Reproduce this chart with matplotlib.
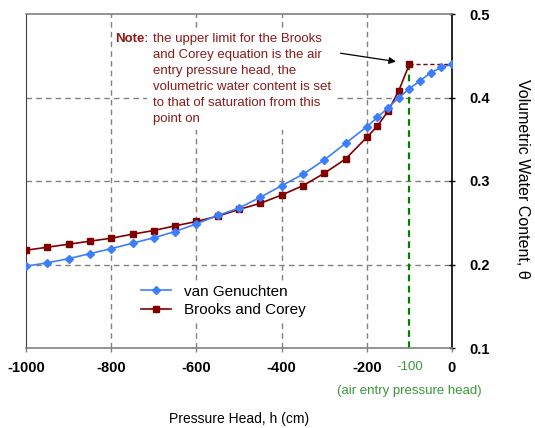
import matplotlib
matplotlib.use("Agg")
import matplotlib.pyplot as plt

plt.rcParams['font.family'] = ['Liberation Sans', 'DejaVu Sans']

# --- data ---
vg_h = [-1000, -950, -900, -850, -800, -750, -700, -650, -600, -550, -500, -450,
        -400, -350, -300, -250, -200, -175, -150, -125, -100, -75, -50, -25, 0]
vg_theta = [0.198, 0.202, 0.207, 0.213, 0.219, 0.2255, 0.232, 0.2395, 0.2487, 0.2587, 0.2676, 0.2805,
            0.2944, 0.308, 0.3251, 0.3451, 0.365, 0.3763, 0.3878, 0.3998, 0.4106, 0.420, 0.4297, 0.436, 0.44]

bc_h = [-1000, -950, -900, -850, -800, -750, -700, -650, -600, -550, -500, -450,
        -400, -350, -300, -250, -200, -175, -150, -125, -100]
bc_theta = [0.2171, 0.2207, 0.2243, 0.2279, 0.2315, 0.2363, 0.2407, 0.2463, 0.2515, 0.2579, 0.2659, 0.2733,
            0.2832, 0.2944, 0.3092, 0.3263, 0.3523, 0.3659, 0.3838, 0.408, 0.44]
bc_sat_h = [-100, 0]
bc_sat_theta = [0.44, 0.44]

air_entry_h = -100
xticks = [-1000, -800, -600, -400, -200, 0]
yticks = [0.1, 0.2, 0.3, 0.4, 0.5]

blue = "#3D7EFF"
red = "#800000"
green = "#008000"
note_color = "#8B1A1A"

fig = plt.figure(figsize=(5.35, 4.28), dpi=100)
ax = fig.add_axes([26/535, 1-348/428, 426/535, 334/428])
ax.set_xlim(-1000, 0)
ax.set_ylim(0.1, 0.5)

# grid
for x in [-800, -600, -400, -200]:
    ax.axvline(x, color="#808080", ls=(0, (4, 3)), lw=1.0, zorder=0)
for y in [0.2, 0.3, 0.4]:
    ax.axhline(y, color="#808080", ls=(0, (4, 3)), lw=1.0, zorder=0)

# air entry line
ax.plot([air_entry_h, air_entry_h], [0.1, bc_sat_theta[0]], color=green, ls=(0, (3, 2)), lw=1.6, zorder=2)

l1, = ax.plot(vg_h, vg_theta, color=blue, marker="D", ms=4, lw=1.2, label="van Genuchten", zorder=4)
l2, = ax.plot(bc_h, bc_theta, color=red, marker="s", ms=5, lw=1.2, label="Brooks and Corey", zorder=3)
ax.plot(bc_sat_h, bc_sat_theta, color=red, ls=(0, (3, 2)), lw=1.0, zorder=3)

# axes styling
ax.yaxis.tick_right()
ax.set_yticks(yticks)
ax.set_yticklabels(["0.1", "0.2", "0.3", "0.4", "0.5"], fontsize=10.5, fontweight="bold")
ax.tick_params(axis="y", direction="inout", length=5, width=1, pad=10, color="black")
ax.set_xticks(xticks)
ax.set_xticklabels([str(x) for x in xticks], fontsize=10.5, fontweight="bold")
ax.tick_params(axis="x", direction="out", length=3, width=1, pad=6, color="#808080")
for s in ["top", "bottom"]:
    ax.spines[s].set_color("#808080")
    ax.spines[s].set_linewidth(1.2)
ax.spines["left"].set_color("#404040")
ax.spines["right"].set_color("black")
ax.spines["right"].set_linewidth(1.2)

ax.text(air_entry_h, -0.057, "-100", transform=ax.get_xaxis_transform(), ha="center", va="center",
        fontsize=9.5, color="#3a9a3a")
ax.text(-100, -0.129, "(air entry pressure head)", transform=ax.get_xaxis_transform(), ha="center", va="center",
        fontsize=9.5, color="#3a9a3a")

ax.set_xlabel("Pressure Head, h (cm)", fontsize=10, labelpad=27)
fig.text(523/535, 1-179/428, "Volumetric Water Content, \u03b8", rotation=-90, ha="center", va="center", fontsize=11.5)

# note
ax.text(-712, 0.477, "Note:", ha="right", va="top", fontsize=9.5, fontweight="bold", color=note_color)
ax.text(-702, 0.477,
        "the upper limit for the Brooks\nand Corey equation is the air\nentry pressure head, the\n"
        "volumetric water content is set\nto that of saturation from this\npoint on",
        ha="left", va="top", fontsize=9.5, color=note_color, linespacing=1.43,
        bbox=dict(facecolor="white", edgecolor="none", pad=4), zorder=5)
ax.annotate("", xy=(-125, 0.4425), xytext=(-268, 0.4535),
            arrowprops=dict(arrowstyle="-|>", color="black", lw=0.9, mutation_scale=10), zorder=6)

leg = ax.legend(handles=[l1, l2], loc="upper left", bbox_to_anchor=(0.246, 0.222), fontsize=11,
                frameon=True, facecolor="white", edgecolor="none", framealpha=1, fancybox=False,
                handlelength=1.95, handletextpad=0.8, borderpad=0.2, labelspacing=0.3)
leg.set_zorder(5)

fig.savefig("out.png", dpi=100)
